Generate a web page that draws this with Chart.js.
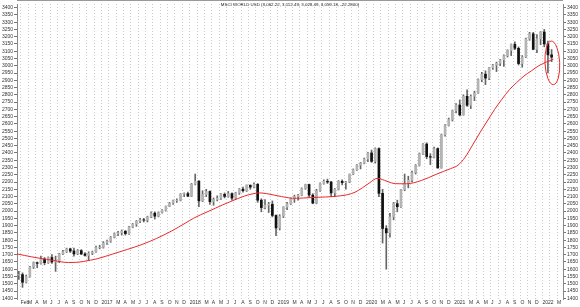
<!DOCTYPE html>
<html>
<head>
<meta charset="utf-8">
<script src="https://cdn.jsdelivr.net/npm/chart.js@4.4.0/dist/chart.umd.min.js"></script>
<style>
  html, body { margin: 0; padding: 0; background: #fff; }
  #wrap { position: relative; width: 580px; height: 307px; }
</style>
</head>
<body>
<div id="wrap"><canvas id="msciChart"></canvas></div>
<script>
const chartTitle = 'MSCI WORLD USD (3,062.22, 3,112.49, 3,028.49, 3,059.18, -22.2800)';

// Half-month candles, from the second half of Jan 2016 to the first half of Feb 2022
// (month 0 = Feb 2016)
const firstCandle = -0.25;
const opens = [
  1560,1563,1510,1550,1615,1645,1640,1670,1645,1680,1650,1655,1705,1720,1740,1725,1705,1728,1705,1695,1710,1718,1750,
  1751,1780,1793,1820,1843,1850,1862,1845,1890,1910,1930,1940,1938,1960,1986,1965,1990,2005,2033,2055,2072,2075,2117,2120,
  2103,2185,2206,2070,2114,2135,2065,2080,2088,2115,2101,2120,2089,2125,2151,2140,2178,2165,2184,2075,2024,2040,2047,1970,
  1884,1965,2027,2050,2086,2100,2109,2155,2183,2110,2055,2140,2190,2205,2200,2125,2150,2205,2196,2200,2254,2285,2316,2330,
  2358,2400,2342,2430,2122,1880,1850,1960,2051,2030,2148,2190,2212,2265,2314,2395,2461,2375,2371,2430,2297,2525,2589,2630,
  2690,2730,2662,2790,2728,2790,2812,2905,2942,2915,2987,3005,3017,3040,3069,3105,3147,3120,3015,3060,3184,3220,3113,3185,
  3232,3150,3075
];
const highs = [
  1585,1575,1560,1620,1650,1650,1690,1680,1685,1700,1690,1710,1730,1745,1745,1745,1735,1735,1715,1720,1725,1760,1765,
  1790,1800,1825,1850,1860,1870,1865,1895,1915,1935,1950,1950,1965,1995,1995,1995,2010,2035,2060,2075,2085,2120,2125,2130,
  2190,2255,2210,2140,2150,2140,2090,2105,2120,2125,2135,2125,2130,2155,2165,2180,2180,2195,2190,2085,2080,2060,2070,1975,
  1975,2030,2060,2090,2110,2115,2160,2185,2185,2120,2150,2195,2215,2220,2205,2155,2210,2215,2205,2255,2290,2320,2335,2365,
  2405,2420,2435,2435,2150,1900,1985,2060,2075,2150,2255,2240,2275,2320,2400,2465,2470,2395,2440,2435,2530,2595,2640,2695,
  2740,2765,2800,2835,2800,2825,2910,2955,2965,2990,3010,3025,3045,3075,3110,3150,3165,3130,3070,3190,3230,3230,3215,3235,
  3250,3170,3112
];
const lows = [
  1530,1475,1505,1545,1605,1610,1635,1630,1640,1640,1585,1645,1700,1715,1715,1690,1700,1700,1690,1660,1700,1715,1740,
  1745,1770,1785,1815,1830,1835,1835,1840,1885,1895,1920,1925,1925,1955,1945,1960,1985,2000,2030,2045,2060,2070,2100,2100,
  2100,2180,2030,2065,2100,2045,2040,2070,2080,2090,2095,2075,2080,2115,2130,2135,2150,2160,2060,1995,2015,1990,1960,1830,
  1870,1955,2010,2045,2060,2075,2105,2150,2095,2050,2050,2135,2185,2190,2100,2100,2145,2180,2150,2195,2250,2280,2290,2325,
  2340,2335,2330,2100,1780,1600,1820,1940,1995,2025,2140,2160,2200,2255,2310,2390,2360,2320,2365,2295,2295,2515,2585,2620,
  2675,2655,2660,2720,2705,2760,2810,2890,2870,2905,2975,2960,3000,2995,3060,3070,3110,3005,2990,3055,3175,3110,3090,3145,
  3130,2950,3028
];
const closes = [
  1563,1510,1550,1615,1645,1640,1670,1645,1680,1650,1655,1705,1720,1740,1725,1705,1728,1705,1695,1710,1718,1750,1751,
  1780,1793,1820,1843,1850,1862,1845,1890,1910,1930,1940,1938,1960,1986,1965,1990,2005,2033,2055,2072,2075,2117,2120,2103,
  2185,2206,2070,2114,2135,2065,2080,2088,2115,2101,2120,2089,2125,2151,2140,2178,2165,2184,2075,2024,2040,2047,1970,1884,
  1965,2027,2050,2086,2100,2109,2155,2183,2110,2055,2140,2190,2205,2200,2125,2150,2205,2196,2200,2254,2285,2316,2330,2358,
  2400,2342,2430,2122,1880,1850,1960,2051,2030,2148,2190,2212,2265,2314,2395,2461,2375,2371,2430,2297,2525,2589,2630,2690,
  2730,2662,2790,2728,2790,2812,2905,2942,2915,2987,3005,3017,3040,3069,3105,3147,3120,3015,3060,3184,3220,3113,3185,3232,
  3150,3075,3059
];

// Red moving average, one value per month (mid Jan 2016 .. mid Feb 2022)
const firstAverage = -0.5;
const movingAverage = [
  1705,1695,1685,1676,1668,1660,1651,1646,1647,1653,1662,1673,
  1688,1704,1720,1736,1752,1770,1790,1812,1836,1862,1890,1920,
  1950,1975,1997,2020,2043,2064,2085,2104,2118,2125,2120,2110,
  2100,2091,2088,2090,2093,2095,2097,2100,2105,2113,2130,2160,
  2195,2225,2212,2193,2188,2188,2195,2210,2230,2252,2272,2292,
  2315,2372,2455,2540,2620,2700,2770,2835,2885,2930,2965,3000,
  3025,3045
];

// Axis ticks
const yTicks = [];
for (let v = 1400; v <= 3400; v += 50) yTicks.push(v);
const monthLetters = ['', '', 'M', 'A', 'M', 'J', 'J', 'A', 'S', 'O', 'N', 'D'];
const firstYear = 2016;
const monthCount = 74; // Feb 2016 .. Mar 2022

// Circled area at the end of the series: [month, value] and radii
const markerCenter = [72.35, 3020];
const markerRadius = [1.0, 150];

function monthLabel(m) {
    const cal = (m + 1) % 12;
    if (cal === 0) return String(firstYear + Math.floor((m + 1) / 12));
    if (m === 0) return 'Feb';
    return monthLetters[cal];
}

const candleX = closes.map((c, i) => firstCandle + i * 0.5);
const wickData = candleX.map((x, i) => ({ x: x, y: [lows[i], highs[i]] }));
const bodyData = candleX.map((x, i) => ({ x: x, y: [opens[i], closes[i]] }));
const bodyColors = closes.map((c, i) => c < opens[i] ? '#111111' : '#b4b4b4');
const averageData = movingAverage.map((v, i) => ({ x: firstAverage + i, y: v }));

const fontFamily = '"Liberation Sans", Arial, sans-serif';

const overlay = {
    id: 'overlay',
    afterDatasetsDraw(chart) {
        const { ctx, chartArea, scales } = chart;
        const x = scales.x, y = scales.y;
        ctx.save();
        // top frame line
        ctx.strokeStyle = '#999';
        ctx.lineWidth = 1;
        ctx.beginPath();
        ctx.moveTo(chartArea.left, 0.5);
        ctx.lineTo(chartArea.right, 0.5);
        ctx.stroke();
        // title
        ctx.fillStyle = '#222';
        ctx.font = '4.4px ' + fontFamily;
        ctx.textAlign = 'center';
        ctx.textBaseline = 'top';
        ctx.fillText(chartTitle, (chartArea.left + chartArea.right) / 2, 3);
        // red ellipse
        const cx = x.getPixelForValue(markerCenter[0]);
        const cy = y.getPixelForValue(markerCenter[1]);
        const rx = Math.abs(x.getPixelForValue(markerCenter[0] + markerRadius[0]) - cx);
        const ry = Math.abs(y.getPixelForValue(markerCenter[1] + markerRadius[1]) - cy);
        ctx.strokeStyle = 'rgb(235, 40, 40)';
        ctx.lineWidth = 1;
        ctx.beginPath();
        ctx.ellipse(cx, cy, rx, ry, -0.05, 0, Math.PI * 2);
        ctx.stroke();
        ctx.restore();
    }
};

const yAxis = (position) => ({
    type: 'linear',
    position: position,
    min: 1395,
    max: 3425,
    afterBuildTicks: axis => { axis.ticks = yTicks.map(v => ({ value: v })); },
    afterFit: scale => { scale.width = 17; },
    ticks: {
        autoSkip: false,
        padding: 1,
        color: '#333',
        font: { size: 5, family: fontFamily },
        callback: v => String(v)
    },
    grid: { drawOnChartArea: false, drawTicks: true, tickLength: 3, tickColor: '#777' },
    border: { display: true, color: '#888' }
});

new Chart(document.getElementById('msciChart'), {
    type: 'bar',
    data: {
        datasets: [
            {
                type: 'line',
                data: averageData,
                borderColor: 'rgb(235, 40, 40)',
                borderWidth: 1,
                pointRadius: 0,
                cubicInterpolationMode: 'monotone',
                order: 0
            },
            {
                data: bodyData,
                backgroundColor: bodyColors,
                barThickness: 2,
                grouped: false,
                order: 1
            },
            {
                data: wickData,
                backgroundColor: '#666',
                barThickness: 1,
                grouped: false,
                order: 2
            }
        ]
    },
    options: {
        responsive: true,
        maintainAspectRatio: false,
        animation: false,
        layout: { padding: { top: 1, left: 0, right: 0, bottom: 0 } },
        plugins: {
            legend: { display: false },
            tooltip: { enabled: false }
        },
        scales: {
            x: {
                type: 'linear',
                min: -0.5,
                max: 73.8,
                offset: false,
                afterBuildTicks: axis => {
                    const t = [];
                    for (let m = 0; m < monthCount; m++) t.push({ value: m });
                    axis.ticks = t;
                },
                afterFit: scale => { scale.height = 8; },
                ticks: {
                    autoSkip: false,
                    maxRotation: 0,
                    minRotation: 0,
                    align: 'start',
                    padding: 1,
                    color: '#333',
                    font: { size: 5, family: fontFamily },
                    callback: v => monthLabel(v)
                },
                grid: { offset: false, drawTicks: false, color: 'rgba(0, 0, 0, 0.2)' },
                border: { display: false, dash: [1, 2] }
            },
            y: yAxis('left'),
            y2: yAxis('right')
        }
    },
    plugins: [overlay]
});
</script>
</body>
</html>
